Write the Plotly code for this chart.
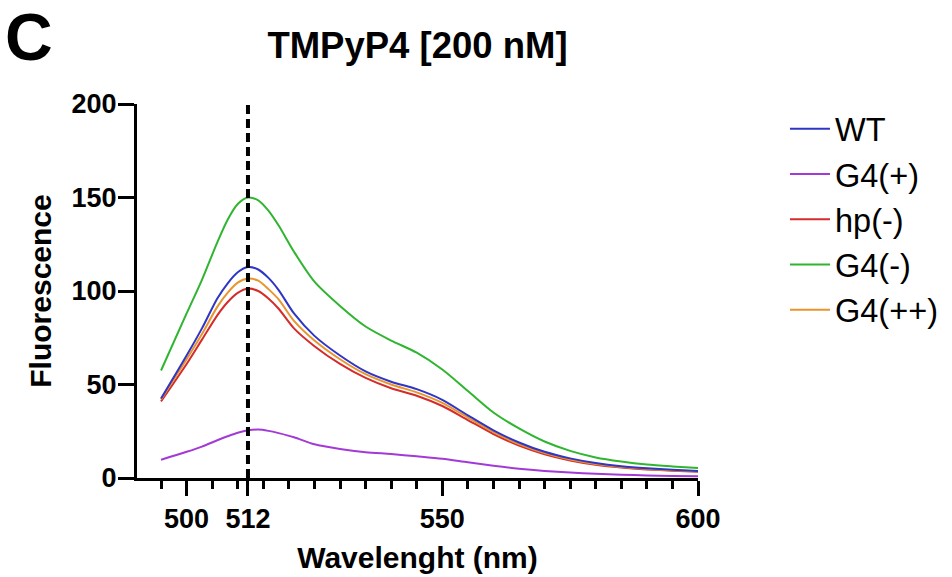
import plotly.graph_objects as go

# ---- data ----
wavelength = [495, 500, 503, 506, 508, 510, 512, 514, 516, 518, 521, 525, 530, 535, 540,
              545, 550, 555, 560, 565, 570, 575, 580, 585, 590, 595, 600]

wt       = [42.5, 65.5, 80.0, 96.0, 104.0, 110.0, 112.8, 111.5, 107.0, 100.5, 88.0, 76.0, 65.5, 57.0, 51.5,
            47.5, 41.8, 33.5, 25.5, 19.0, 14.0, 10.5, 8.0, 6.3, 5.2, 4.4, 3.8]
g4_plus  = [9.8, 14.0, 16.8, 20.2, 22.3, 24.2, 25.5, 25.9, 25.2, 24.0, 21.8, 18.0, 15.5, 13.8, 12.8,
            11.6, 10.3, 8.4, 6.6, 5.0, 3.8, 2.9, 2.3, 1.8, 1.4, 1.1, 0.9]
hp_minus = [41.0, 61.0, 74.0, 87.0, 94.0, 99.0, 101.3, 100.0, 96.0, 90.5, 80.0, 70.5, 61.0, 53.5, 48.0,
            44.0, 38.5, 31.0, 23.5, 17.3, 12.7, 9.4, 7.1, 5.6, 4.6, 3.9, 3.4]
g4_minus = [57.5, 88.0, 106.0, 126.0, 138.0, 146.5, 150.0, 148.5, 143.0, 135.0, 121.0, 105.0, 92.0, 81.0, 73.5,
            67.0, 58.0, 46.5, 35.0, 26.5, 19.5, 14.5, 11.0, 8.8, 7.2, 6.2, 5.4]
g4_pp    = [42.0, 63.5, 77.0, 91.5, 99.0, 104.5, 106.7, 105.5, 101.0, 95.5, 84.0, 73.5, 63.5, 55.5, 50.0,
            45.8, 40.2, 32.3, 24.5, 18.1, 13.3, 9.9, 7.5, 5.9, 4.9, 4.1, 3.6]

series_names = ["WT", "G4(+)", "hp(-)", "G4(-)", "G4(++)"]
series_values = [wt, g4_plus, hp_minus, g4_minus, g4_pp]
series_colors = ["#2f35c4", "#a23ad6", "#d42b2b", "#2fb52f", "#e8952e"]

x_major_ticks = [500, 512, 550, 600]
x_minor_ticks = [495, 505, 510, 515, 520, 525, 530, 535, 540, 545, 555, 560,
                 565, 570, 575, 580, 585, 590, 595]
y_ticks = [0, 50, 100, 150, 200]
marker_wavelength = 512

FONT = "Liberation Sans, Arial, Helvetica, sans-serif"

fig = go.Figure()
# draw order so that WT (blue) ends up on top like the reference
draw_order = [3, 1, 2, 4, 0]
for i in draw_order:
    fig.add_trace(go.Scatter(
        x=wavelength, y=series_values[i], name=series_names[i], mode="lines",
        line=dict(color=series_colors[i], width=2, shape="spline", smoothing=0.8),
        legendrank=i + 1, legendgroup=series_names[i],
    ))

fig.add_shape(type="line", xref="x", yref="y",
              x0=marker_wavelength, x1=marker_wavelength, y0=0, y1=200,
              line=dict(color="black", width=4, dash="9px,5px"))

L, R, T, B = 137, 254, 104, 99
W, H = 952, 577
pw = W - L - R
ph = H - T - B

def px_x(p):
    return (p - L) / pw

def px_y(p):
    return (H - B - p) / ph

fig.update_layout(
    width=W, height=H,
    margin=dict(l=L, r=R, t=T, b=B, autoexpand=False),
    paper_bgcolor="white", plot_bgcolor="white",
    font=dict(family=FONT, color="black"),
    title=dict(text="TMPyP4 [200 nM]", x=0.5, xref="paper", xanchor="center",
               y=1 - 45 / H, yref="container", yanchor="middle",
               font=dict(size=36.5, weight="bold", family=FONT, color="black")),
    showlegend=True,
    legend=dict(x=px_x(785), xanchor="left", y=px_y(101), yanchor="top",
                font=dict(size=32.5, family=FONT, color="black"),
                tracegroupgap=11, itemwidth=40, bgcolor="rgba(0,0,0,0)",
                traceorder="normal"),
)

fig.update_xaxes(
    range=[490.3, 600], showgrid=False, zeroline=False, automargin=False,
    showline=True, linecolor="black", linewidth=3,
    tickmode="array", tickvals=x_major_ticks,
    ticks="outside", ticklen=15, tickwidth=3, tickcolor="black",
    tickfont=dict(size=27, weight="bold", family=FONT, color="black"),
    minor=dict(tickmode="array", tickvals=x_minor_ticks, ticks="outside",
               ticklen=8, tickwidth=3, tickcolor="black", showgrid=False),
    title=dict(text="Wavelenght (nm)", standoff=14,
               font=dict(size=30, weight="bold", family=FONT, color="black")),
)
fig.update_yaxes(
    range=[0, 200], showgrid=False, zeroline=False, automargin=False,
    showline=True, linecolor="black", linewidth=3,
    tickmode="array", tickvals=y_ticks,
    ticks="outside", ticklen=16, tickwidth=3, tickcolor="black",
    ticklabelstandoff=-4,
    tickfont=dict(size=27, weight="bold", family=FONT, color="black"),
    title=dict(text="Fluorescence", standoff=12,
               font=dict(size=30, weight="bold", family=FONT, color="black")),
)

fig.add_annotation(text="C", xref="paper", yref="paper",
                   x=px_x(29), y=px_y(37), xanchor="center", yanchor="middle",
                   showarrow=False,
                   font=dict(size=66, weight="bold", family=FONT, color="black"))

fig.write_html("out.html", config={"displayModeBar": False},
               post_script="document.body.style.margin='0';")
